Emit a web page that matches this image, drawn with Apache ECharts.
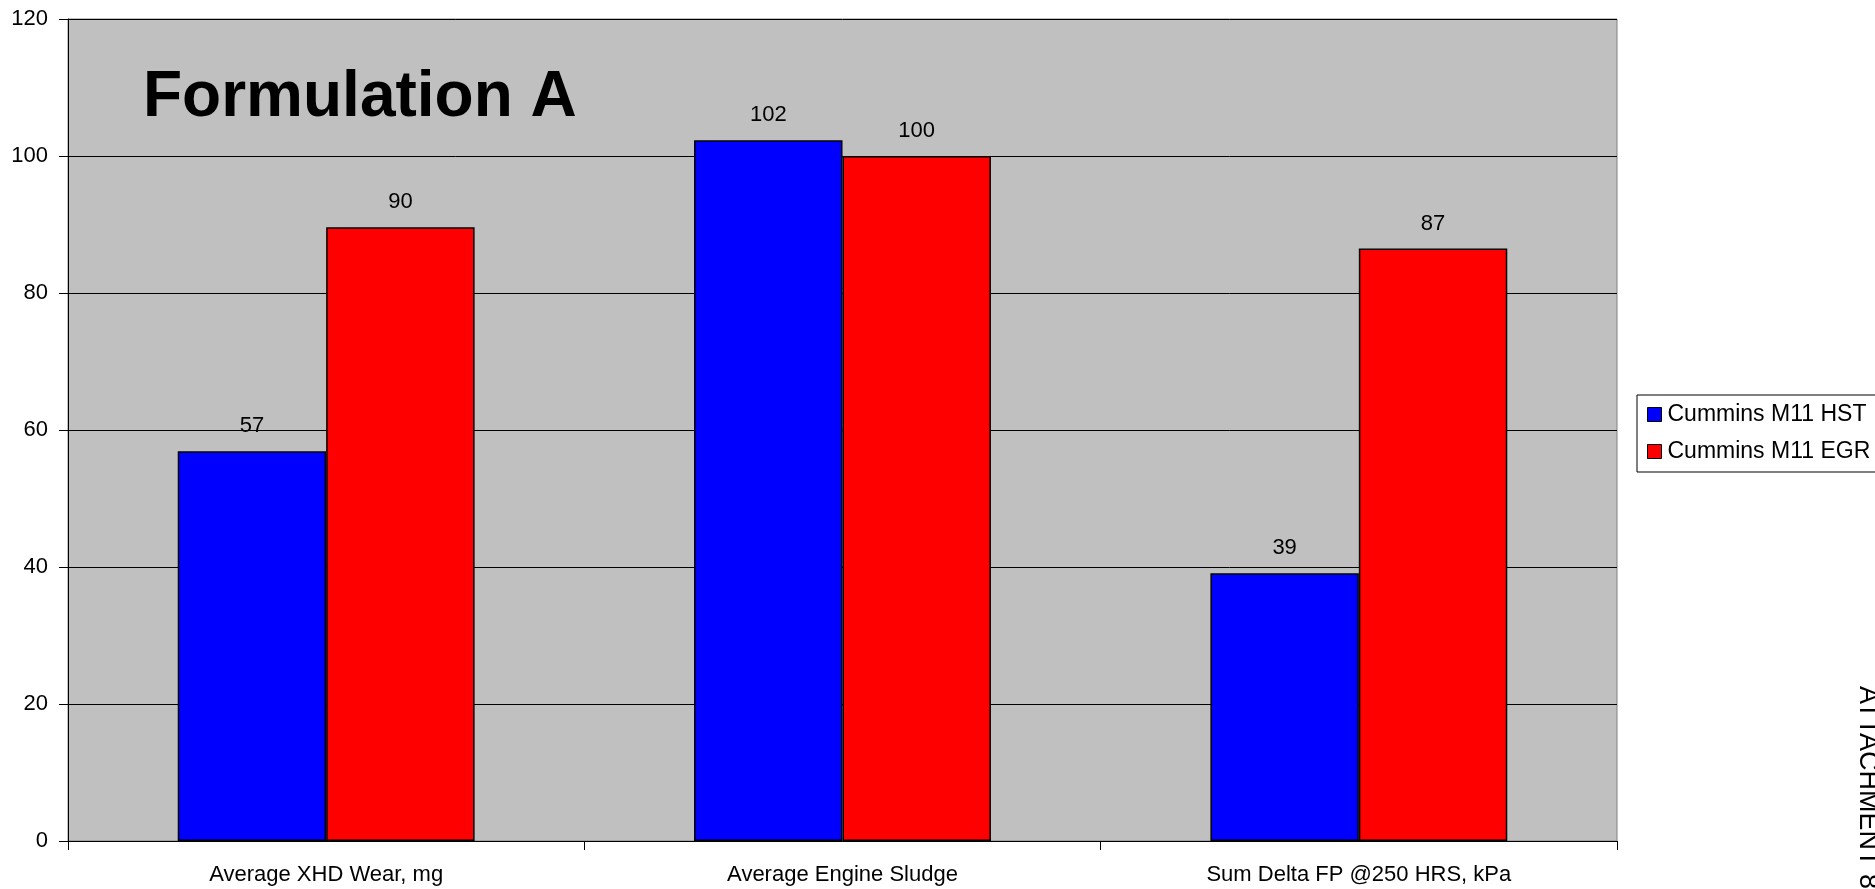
<!DOCTYPE html>
<html>
<head>
<meta charset="utf-8">
<script src="https://cdn.jsdelivr.net/npm/echarts@6/dist/echarts.min.js"></script>
<style>
  html, body { margin: 0; padding: 0; background: #fff; }
  #chart { width: 1875px; height: 889px; }
</style>
</head>
<body>
<div id="chart"></div>
<script>
const categories = ["Average XHD Wear, mg", "Average Engine Sludge", "Sum Delta FP @250 HRS, kPa"];
const hstValues = [56.9, 102.3, 39.1];
const egrValues = [89.6, 100.0, 86.5];
const seriesNames = ["Cummins M11 HST", "Cummins M11 EGR"];
const yTicks = [0, 20, 40, 60, 80, 100, 120];

const font = "'Liberation Sans', Arial, sans-serif";
const chart = echarts.init(document.getElementById("chart"));

const barLabel = {
  show: true,
  position: "top",
  distance: 14,
  color: "#000",
  fontFamily: font,
  fontSize: 22,
  formatter: (p) => Math.round(p.value)
};

chart.setOption({
  animation: false,
  backgroundColor: "#fff",
  grid: {
    left: 68,
    right: 258,
    top: 19,
    bottom: 48,
    show: true,
    backgroundColor: "#c0c0c0",
    borderColor: "#808080",
    borderWidth: 1
  },
  legend: {
    left: 1637,
    top: 395,
    orient: "vertical",
    padding: [8, 10, 9, 10],
    itemGap: 14,
    itemWidth: 14,
    itemHeight: 14,
    icon: "rect",
    borderColor: "#000",
    borderWidth: 1,
    backgroundColor: "#fff",
    itemStyle: { borderColor: "#000", borderWidth: 1 },
    textStyle: { fontFamily: font, fontSize: 23, color: "#000", padding: [0, 0, 0, 1] },
    data: seriesNames
  },
  xAxis: {
    type: "category",
    data: categories,
    axisLine: { lineStyle: { color: "#000", width: 1 } },
    axisTick: { show: true, length: 9, lineStyle: { color: "#000" } },
    axisLabel: { color: "#000", fontFamily: font, fontSize: 22, margin: 23 }
  },
  yAxis: {
    type: "value",
    min: yTicks[0],
    max: yTicks[yTicks.length - 1],
    interval: 20,
    axisLine: { show: true, lineStyle: { color: "#000", width: 1 } },
    axisTick: { show: true, length: 9, lineStyle: { color: "#000" } },
    axisLabel: { color: "#000", fontFamily: font, fontSize: 22, margin: 20 },
    splitLine: { show: true, lineStyle: { color: "#000", width: 1 } }
  },
  series: [
    {
      name: seriesNames[0],
      type: "bar",
      data: hstValues,
      barGap: "0%",
      barCategoryGap: "42.5%",
      itemStyle: { color: "#0000ff", borderColor: "#000", borderWidth: 1.5 },
      label: barLabel
    },
    {
      name: seriesNames[1],
      type: "bar",
      data: egrValues,
      itemStyle: { color: "#ff0000", borderColor: "#000", borderWidth: 1.5 },
      label: barLabel
    }
  ],
  graphic: [
    {
      type: "text",
      left: 143,
      top: 66,
      style: {
        text: "Formulation A",
        fontFamily: font,
        fontWeight: "bold",
        fontSize: 64,
        fill: "#000"
      }
    },
    {
      type: "text",
      x: 1854,
      y: 686,
      rotation: -Math.PI / 2,
      style: {
        text: "ATTACHMENT 8",
        fontFamily: font,
        fontSize: 27,
        fill: "#000",
        textAlign: "left",
        textVerticalAlign: "bottom"
      }
    }
  ]
});
</script>
</body>
</html>
